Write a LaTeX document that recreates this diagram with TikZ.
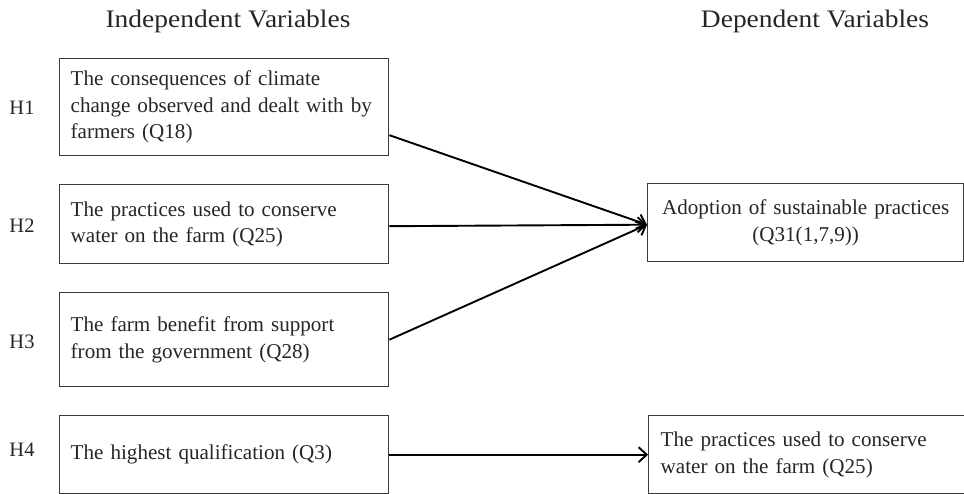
\documentclass[tikz,border=0pt]{standalone}
\usepackage{fontspec}
\setmainfont{Liberation Serif}
\newfontfamily\headfont{Liberation Serif}[FakeStretch=1.09]
\usetikzlibrary{arrows.meta,calc}
\definecolor{edgegrey}{HTML}{3C3C3C}
\begin{document}
\begin{tikzpicture}[x=1pt,y=-1pt,
  varbox/.style={draw=edgegrey,line width=1.4pt,rectangle,anchor=north west,
    inner xsep=11pt,inner ysep=0pt,font=\fontsize{21.1}{26.5}\selectfont,text=black!85},
  leftbox/.style={varbox,minimum width=329pt,text width=307pt,align=left},
  heading/.style={font=\headfont\fontsize{25.2}{30}\selectfont,text=black!85,anchor=base},
  hyp/.style={font=\fontsize{20.5}{24}\selectfont,text=black!85},
  link/.style={line width=1.9pt,-{Straight Barb[length=8pt,width=15pt,line width=1.9pt]}}]
\useasboundingbox (0,0) rectangle (964,494);
\clip (0,0) rectangle (964,494);

% column headings
\node[heading] (indep) at (228,28) {Independent Variables};
\node[heading] (dep) at (815,28) {Dependent Variables};

% independent variables
\node[leftbox,minimum height=97pt] (q18) at (59,58)
  {The consequences of climate\\change observed and dealt with by\\farmers (Q18)};
\node[leftbox,minimum height=79pt] (q25) at (59,184)
  {The practices used to conserve\\water on the farm (Q25)};
\node[leftbox,minimum height=94pt] (q28) at (59,292)
  {The farm benefit from support\\from the government (Q28)};
\node[leftbox,minimum height=78pt] (q3) at (59,415)
  {The highest qualification (Q3)};

% hypothesis labels
\node[hyp] (h1) at (22,108) {H1};
\node[hyp] (h2) at (22,226) {H2};
\node[hyp] (h3) at (22,342) {H3};
\node[hyp] (h4) at (22,450) {H4};

% dependent variables
\node[varbox,minimum width=316pt,minimum height=78pt,text width=294pt,align=center] (adopt) at (647,183)
  {Adoption of sustainable practices\\(Q31(1,7,9))};
\node[varbox,minimum width=325pt,minimum height=78pt,text width=303pt,align=left,inner xsep=12pt] (water) at (648,415)
  {The practices used to conserve\\water on the farm (Q25)};

% hypothesised relations
\coordinate (tgt) at ($(adopt.west)+(0,2)$);
\draw[link] ($(q18.east)+(0,28)$) -- (tgt);
\draw[link] ($(q25.east)+(0,2)$) -- (tgt);
\draw[link] (q28.east) -- (tgt);
\draw[link] (q3.east) -- (q3.east -| water.west);
\end{tikzpicture}
\end{document}
